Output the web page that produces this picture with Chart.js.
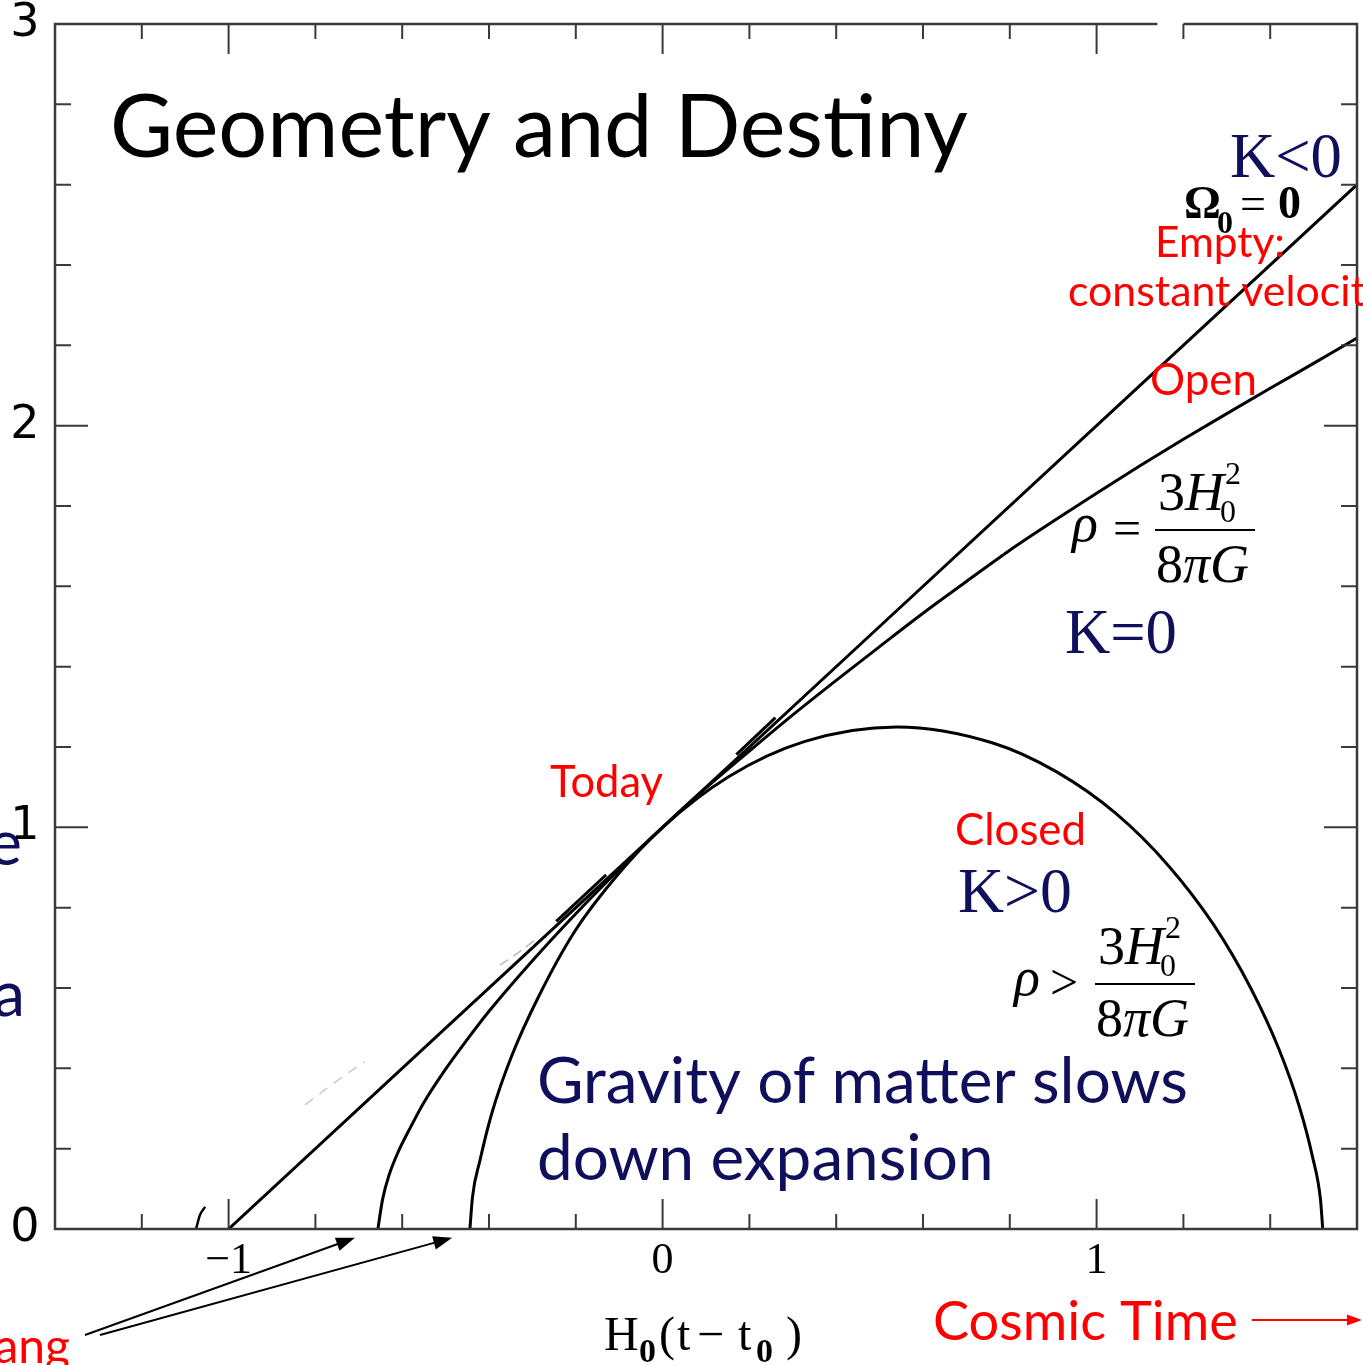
<!DOCTYPE html>
<html>
<head>
<meta charset="utf-8">
<script src="https://cdn.jsdelivr.net/npm/chart.js@4.4.1/dist/chart.umd.min.js"></script>
<style>
  html, body { margin: 0; padding: 0; background: #fff; }
  #wrap { width: 1363px; height: 1365px; position: relative; }
</style>
</head>
<body>
<div id="wrap"><canvas id="destiny-chart"></canvas></div>
<script>
// axis ranges and ticks
const xMajorTicks = [-1, 0, 1];
const xTickLabels = ['\u22121', '0', '1'];
const xMinorTicks = [-1.2, -0.8, -0.6, -0.4, -0.2, 0.2, 0.4, 0.6, 0.8, 1.2, 1.4];
const yMajorTicks = [0, 1, 2, 3];
const yTickLabels = ['0', '1', '2', '3'];
const yMinorTicks = [0.2, 0.4, 0.6, 0.8, 1.2, 1.4, 1.6, 1.8, 2.2, 2.4, 2.6, 2.8];

// empty universe, constant velocity
const emptyX = [-1, -0.5, 0, 0.5, 1, 1.6];
const emptyY = [0, 0.5, 1, 1.5, 2, 2.6];

// flat (critical density)
const flatX = [-0.656, -0.645, -0.63, -0.61, -0.58, -0.55, -0.5, -0.45, -0.4, -0.3, -0.2, -0.1, 0,
  0.1, 0.2, 0.3, 0.4, 0.5, 0.6, 0.7, 0.8, 0.9, 1.0, 1.1, 1.2, 1.3, 1.4, 1.5, 1.6];
const flatY = [0, 0.075, 0.135, 0.19, 0.255, 0.315, 0.398, 0.472, 0.542, 0.668, 0.785, 0.895, 1,
  1.098, 1.19, 1.28, 1.366, 1.45, 1.533, 1.612, 1.69, 1.762, 1.832, 1.9, 1.966, 2.03, 2.093, 2.155, 2.218];

// closed, recollapsing
const closedX = [-0.444, -0.438, -0.421, -0.393, -0.348, -0.285, -0.203, -0.101, 0, 0.152, 0.328, 0.54,
  0.761, 0.908, 1.045, 1.166, 1.27, 1.355, 1.42, 1.467, 1.497, 1.516, 1.521];
const closedY = [0, 0.08, 0.17, 0.29, 0.43, 0.58, 0.74, 0.885, 1, 1.126, 1.214, 1.25,
  1.21, 1.138, 1.034, 0.904, 0.757, 0.6, 0.448, 0.305, 0.182, 0.072, 0];

// short ruler strokes drawn alongside the line near today
const rulerUpX = [0.17, 0.26];
const rulerUpY = [1.181, 1.273];
const rulerLowX = [-0.245, -0.13];
const rulerLowY = [0.766, 0.882];

// leftover stroke fragments in the scan
const stubX = [-1.075, -1.066, -1.054];
const stubY = [0, 0.035, 0.055];
const ghostX = [-0.824, -0.78, -0.732, -0.686];
const ghostY = [0.309, 0.345, 0.383, 0.416];
const ghost2X = [-0.375, -0.33, -0.294];
const ghost2Y = [0.657, 0.69, 0.72];

const toPoints = (xs, ys) => xs.map((x, i) => ({x, y: ys[i]}));

const NAVY = '#0f0f5c';
const RED = '#ff0000';
const SANS = 'Lato, "Open Sans", sans-serif';
const SERIF = '"Liberation Serif", "DejaVu Serif", serif';

const curve = (xs, ys, extra) => Object.assign({
  data: toPoints(xs, ys),
  borderColor: '#000',
  borderWidth: 3,
  cubicInterpolationMode: 'monotone',
  pointRadius: 0,
  showLine: true,
  fill: false,
}, extra || {});

function fitSize(ctx, s, family, weight, width) {
  ctx.font = `${weight} 100px ${family}`;
  return 100 * width / ctx.measureText(s).width;
}

function put(ctx, s, x, y, font, color, align) {
  ctx.font = font;
  ctx.fillStyle = color;
  ctx.textAlign = align || 'left';
  ctx.textBaseline = 'alphabetic';
  ctx.fillText(s, x, y);
  return x + ctx.measureText(s).width;
}

function fitted(ctx, s, x, y, width, color, family, weight, align) {
  const size = fitSize(ctx, s, family || SANS, weight || 400, width);
  put(ctx, s, x, y, `${weight || 400} ${size}px ${family || SANS}`, color, align);
  return size;
}

function arrow(ctx, x0, y0, x1, y1, color, head, width) {
  const ang = Math.atan2(y1 - y0, x1 - x0);
  ctx.strokeStyle = color;
  ctx.fillStyle = color;
  ctx.lineWidth = width;
  ctx.beginPath();
  ctx.moveTo(x0, y0);
  ctx.lineTo(x1 - Math.cos(ang) * head * 0.8, y1 - Math.sin(ang) * head * 0.8);
  ctx.stroke();
  ctx.beginPath();
  ctx.moveTo(x1, y1);
  ctx.lineTo(x1 - head * Math.cos(ang - 0.35), y1 - head * Math.sin(ang - 0.35));
  ctx.lineTo(x1 - head * Math.cos(ang + 0.35), y1 - head * Math.sin(ang + 0.35));
  ctx.closePath();
  ctx.fill();
}

// rho = or > 3H0^2 / 8 pi G
function fraction(ctx, rhoX, relX, barX, barW, barY) {
  const big = `54px ${SERIF}`;
  const bigI = `italic 54px ${SERIF}`;
  const small = `32px ${SERIF}`;
  put(ctx, '\u03c1', rhoX, barY + 11, bigI, '#000');
  put(ctx, relX[1], relX[0], barY + 15, `50px ${SERIF}`, '#000');
  ctx.strokeStyle = '#000';
  ctx.lineWidth = 2;
  ctx.beginPath();
  ctx.moveTo(barX, barY);
  ctx.lineTo(barX + barW, barY);
  ctx.stroke();
  let nx = put(ctx, '3', barX + 3, barY - 20, big, '#000');
  nx = put(ctx, 'H', nx, barY - 20, bigI, '#000');
  put(ctx, '2', nx + 1, barY - 46, small, '#000');
  put(ctx, '0', nx - 4, barY - 8, small, '#000');
  let dx = put(ctx, '8', barX + 1, barY + 52, big, '#000');
  dx = put(ctx, '\u03c0', dx, barY + 52, bigI, '#000');
  put(ctx, 'G', dx, barY + 52, bigI, '#000');
}

const framePlugin = {
  id: 'frame',
  afterDraw(chart) {
    const {ctx, chartArea: a, scales: {x, y}} = chart;
    ctx.save();

    // frame with the small break in the top edge
    ctx.strokeStyle = '#3a3a3a';
    ctx.lineWidth = 2.5;
    const gapL = x.getPixelForValue(1.14);
    const gapR = x.getPixelForValue(1.2);
    ctx.beginPath();
    ctx.moveTo(gapL, a.top);
    ctx.lineTo(a.left, a.top);
    ctx.lineTo(a.left, a.bottom);
    ctx.lineTo(a.right, a.bottom);
    ctx.lineTo(a.right, a.top);
    ctx.lineTo(gapR, a.top);
    ctx.stroke();

    // inward ticks on all four sides
    ctx.lineWidth = 2;
    ctx.beginPath();
    const xt = (v, len) => {
      const px = x.getPixelForValue(v);
      ctx.moveTo(px, a.bottom); ctx.lineTo(px, a.bottom - len);
      ctx.moveTo(px, a.top); ctx.lineTo(px, a.top + len);
    };
    const yt = (v, len) => {
      const py = y.getPixelForValue(v);
      ctx.moveTo(a.left, py); ctx.lineTo(a.left + len, py);
      ctx.moveTo(a.right, py); ctx.lineTo(a.right - len, py);
    };
    xMajorTicks.forEach(v => xt(v, 30));
    xMinorTicks.forEach(v => xt(v, 15));
    yMajorTicks.forEach(v => yt(v, 33));
    yMinorTicks.forEach(v => yt(v, 16));
    ctx.stroke();

    // annotations
    fitted(ctx, 'Geometry and Destiny', 110, 157, 858, '#000');
    fitted(ctx, 'K<0', 1230, 177, 112, NAVY, SERIF);
    put(ctx, '\u03a9', 1184, 218, `bold 46px ${SERIF}`, '#000');
    put(ctx, '0', 1217, 233, `bold 32px ${SERIF}`, '#000');
    put(ctx, '=', 1240, 219, `46px ${SERIF}`, '#000');
    put(ctx, '0', 1278, 218, `bold 46px ${SERIF}`, '#000');
    fitted(ctx, 'Empty:', 1155, 257, 130, RED);
    const cvSize = fitSize(ctx, 'constant velocit', SANS, 400, 298);
    put(ctx, 'constant velocity', 1068, 306, `400 ${cvSize}px ${SANS}`, RED);
    fitted(ctx, 'Open', 1150, 395, 107, RED);
    fraction(ctx, 1072, [1113, '='], 1155, 100, 530);
    fitted(ctx, 'K=0', 1065, 653, 112, NAVY, SERIF);
    fitted(ctx, 'Today', 550, 797, 113, RED);
    fitted(ctx, 'Closed', 955, 845, 131, RED);
    fitted(ctx, 'K>0', 958, 912, 114, NAVY, SERIF);
    fraction(ctx, 1014, [1050, '>'], 1095, 100, 984);
    const gSize = fitted(ctx, 'Gravity of matter slows', 537, 1103, 651, NAVY);
    put(ctx, 'down expansion', 537, 1180, `400 ${gSize}px ${SANS}`, NAVY);

    // labels cut off at the left and bottom edges
    put(ctx, 'Scale', 22, 865, `400 ${gSize}px ${SANS}`, NAVY, 'right');
    put(ctx, 'a', 25, 1016, `400 ${gSize}px ${SANS}`, NAVY, 'right');
    put(ctx, 'Big Bang', 70, 1363, `400 48px ${SANS}`, RED, 'right');

    // big bang arrows
    arrow(ctx, 85, 1335, x.getPixelForValue(-0.709), y.getPixelForValue(-0.022), '#000', 20, 2);
    arrow(ctx, 100, 1335, x.getPixelForValue(-0.485), y.getPixelForValue(-0.022), '#000', 20, 2);

    fitted(ctx, 'Cosmic Time', 933, 1340, 305, RED);
    arrow(ctx, 1252, 1320, 1362, 1320, RED, 16, 2);

    // axis title H0(t - t0)
    const tf = `48px ${SERIF}`;
    const sf = `bold 34px ${SERIF}`;
    put(ctx, 'H', 604, 1350, tf, '#000');
    put(ctx, '0', 639, 1362, sf, '#000');
    put(ctx, '(', 659, 1350, tf, '#000');
    put(ctx, 't', 677, 1350, tf, '#000');
    put(ctx, '\u2212', 697, 1350, tf, '#000');
    put(ctx, 't', 738, 1350, tf, '#000');
    put(ctx, '0', 756, 1362, sf, '#000');
    put(ctx, ')', 786, 1350, tf, '#000');

    // tick labels
    ctx.fillStyle = '#000';
    ctx.textAlign = 'center';
    ctx.textBaseline = 'middle';
    ctx.font = `46px "DejaVu Sans", sans-serif`;
    yMajorTicks.forEach((v, i) => ctx.fillText(yTickLabels[i], 25, y.getPixelForValue(v)));
    ctx.textBaseline = 'top';
    ctx.font = `44px ${SERIF}`;
    xMajorTicks.forEach((v, i) => ctx.fillText(xTickLabels[i], x.getPixelForValue(v), a.bottom + 10));

    ctx.restore();
  }
};

new Chart(document.getElementById('destiny-chart'), {
  type: 'scatter',
  data: {
    datasets: [
      curve(emptyX, emptyY, {cubicInterpolationMode: 'default', tension: 0}),
      curve(flatX, flatY),
      curve(closedX, closedY),
      curve(rulerUpX, rulerUpY, {cubicInterpolationMode: 'default', tension: 0, borderWidth: 3}),
      curve(rulerLowX, rulerLowY, {cubicInterpolationMode: 'default', tension: 0, borderWidth: 3}),
      curve(stubX, stubY, {borderWidth: 2.5}),
      curve(ghostX, ghostY, {borderColor: '#c8c8c8', borderWidth: 1.5, borderDash: [10, 8]}),
      curve(ghost2X, ghost2Y, {borderColor: '#b8b8b8', borderWidth: 1.5, borderDash: [10, 6]}),
    ],
  },
  options: {
    responsive: true,
    maintainAspectRatio: false,
    animation: false,
    layout: {
      padding: {left: 55, top: 24, right: 6, bottom: 136},
    },
    scales: {
      x: {type: 'linear', min: -1.4, max: 1.6, display: false},
      y: {type: 'linear', min: 0, max: 3, display: false},
    },
    plugins: {
      legend: {display: false},
      tooltip: {enabled: false},
    },
  },
  plugins: [framePlugin],
});
</script>
</body>
</html>
